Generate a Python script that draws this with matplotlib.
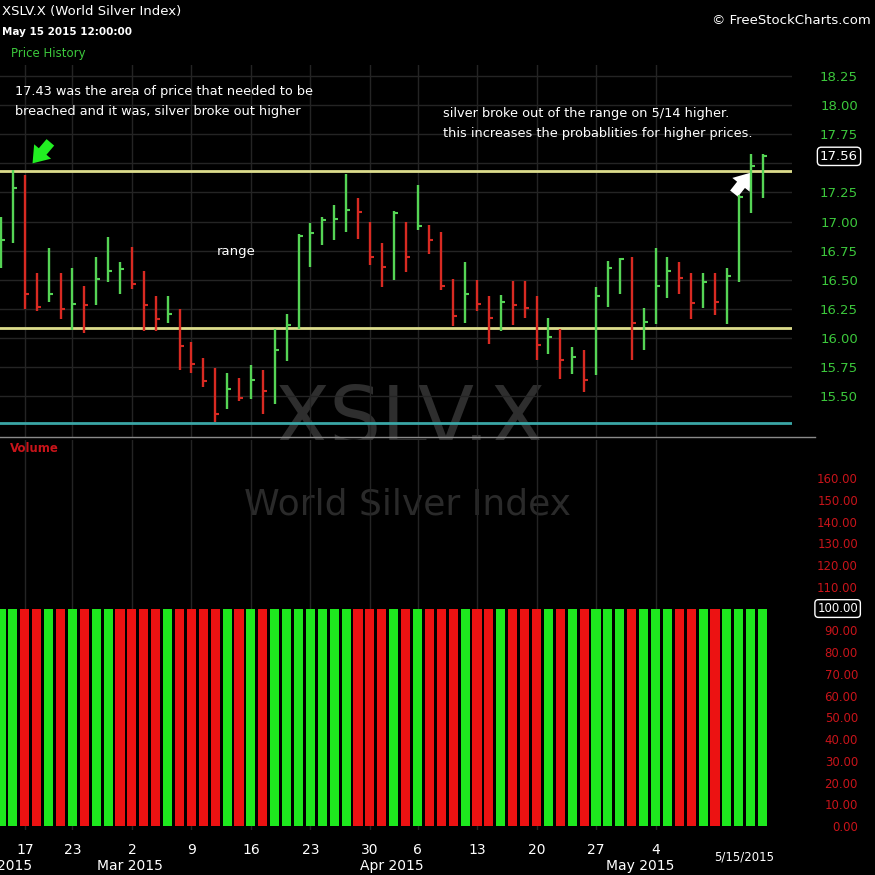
import matplotlib
matplotlib.use('Agg')
import matplotlib.pyplot as plt
import matplotlib.transforms as mtransforms
from matplotlib.lines import Line2D
import numpy as np
import pandas as pd

# ---------------- data ----------------
holidays = ['2015-02-16', '2015-04-03']
dates = [d for d in pd.bdate_range('2015-02-12', '2015-05-15') if d.strftime('%Y-%m-%d') not in holidays]

highs = [17.04, 17.44, 17.40, 16.56, 16.77, 16.56, 16.60, 16.45, 16.70, 16.87,
         16.65, 16.78, 16.58, 16.36, 16.36, 16.25, 15.97, 15.83, 15.74, 15.70,
         15.66, 15.77, 15.73, 16.08, 16.21, 16.89, 16.99, 17.04, 17.14, 17.41,
         17.20, 17.00, 16.82, 17.09, 17.00, 17.31, 16.97, 16.91, 16.51, 16.65,
         16.50, 16.36, 16.37, 16.49, 16.49, 16.36, 16.17, 16.08, 15.92, 15.90,
         16.44, 16.66, 16.69, 16.70, 16.26, 16.77, 16.70, 16.65, 16.56, 16.56,
         16.56, 16.60, 17.23, 17.58, 17.58]
lows = [16.60, 16.82, 16.25, 16.23, 16.31, 16.16, 16.07, 16.04, 16.28, 16.48,
        16.38, 16.42, 16.06, 16.06, 16.13, 15.73, 15.70, 15.58, 15.28, 15.39,
        15.46, 15.48, 15.35, 15.43, 15.80, 16.08, 16.61, 16.80, 16.84, 16.91,
        16.85, 16.63, 16.44, 16.50, 16.57, 16.93, 16.72, 16.41, 16.10, 16.13,
        16.23, 15.95, 16.06, 16.11, 16.17, 15.81, 15.86, 15.65, 15.69, 15.54,
        15.68, 16.27, 16.38, 15.81, 15.90, 16.12, 16.34, 16.38, 16.16, 16.26,
        16.20, 16.12, 16.48, 17.07, 17.20]
closes = [16.84, 17.29, 16.38, 16.27, 16.38, 16.25, 16.29, 16.28, 16.51, 16.58,
          16.59, 16.46, 16.28, 16.16, 16.21, 15.93, 15.78, 15.63, 15.35, 15.56,
          15.49, 15.64, 15.55, 15.90, 16.11, 16.88, 16.90, 17.01, 17.02, 17.10,
          17.08, 16.70, 16.61, 17.07, 16.70, 16.96, 16.84, 16.45, 16.19, 16.38,
          16.29, 16.17, 16.31, 16.28, 16.26, 15.94, 16.01, 15.81, 15.84, 15.64,
          16.36, 16.60, 16.68, 16.13, 16.14, 16.45, 16.58, 16.52, 16.30, 16.48,
          16.31, 16.53, 17.21, 17.48, 17.56]
up = [1, 1, 0, 0, 1, 0, 1, 0, 1, 1,
      1, 0, 0, 0, 1, 0, 0, 0, 0, 1,
      0, 1, 0, 1, 1, 1, 1, 1, 1, 1,
      0, 0, 0, 1, 0, 1, 0, 0, 0, 1,
      0, 0, 1, 0, 0, 0, 1, 0, 1, 0,
      1, 1, 1, 0, 1, 1, 1, 0, 0, 1,
      0, 1, 1, 1, 1]
volumes = [100] * 65
vol_up = [1, 1, 0, 0, 1, 0, 1, 0, 1, 1,
          0, 0, 0, 0, 1, 0, 0, 0, 0, 1,
          0, 1, 0, 1, 1, 1, 1, 1, 1, 1,
          0, 0, 0, 1, 0, 1, 0, 0, 0, 1,
          0, 0, 1, 0, 0, 0, 1, 0, 1, 0,
          1, 1, 1, 0, 1, 1, 1, 0, 0, 1,
          0, 1, 1, 1, 1]

resistance = 17.43
support = 16.09
floor_level = 15.27
last_price = 17.56

tick_dates = ['2015-02-17', '2015-02-23', '2015-03-02', '2015-03-09', '2015-03-16',
              '2015-03-23', '2015-03-30', '2015-04-06', '2015-04-13', '2015-04-20',
              '2015-04-27', '2015-05-04']
month_labels = ['Feb 2015', 'Mar 2015', 'Apr 2015', 'May 2015']
price_levels = [15.50, 15.75, 16.00, 16.25, 16.50, 16.75, 17.00, 17.25, 17.50, 17.75, 18.00, 18.25]
vol_levels = list(range(0, 161, 10))

# ---------------- style ----------------
PGREEN = '#55d455'
PRED = '#d82a22'
VGREEN = '#1ee81e'
VRED = '#ec1212'
GRID = '#242424'
AXGREEN = '#3cc83c'
AXRED = '#c8141a'
plt.rcParams['font.family'] = ['DejaVu Sans']

W = H = 875
def fx(px):
    return px / W
def fy(py):
    return 1 - py / H

fig = plt.figure(figsize=(8.75, 8.75), dpi=100, facecolor='black')
ax = fig.add_axes([0, fy(437), fx(792), fy(65) - fy(437)])
axv = fig.add_axes([0, fy(830), fx(792), fy(440) - fy(830)], sharex=ax)
for a in (ax, axv):
    a.set_facecolor('black')
    for s in a.spines.values():
        s.set_visible(False)

n = len(closes)
x = np.arange(n)
date_index = {d.strftime('%Y-%m-%d'): i for i, d in enumerate(dates)}
tick_idx = [date_index[d] for d in tick_dates]
tick_labels = [str(pd.Timestamp(d).day) for d in tick_dates]

# price bars
pcolors = [PGREEN if u else PRED for u in up]
ax.vlines(x, lows, highs, colors=pcolors, lw=1.7, zorder=4)
ax.hlines(closes, x, x + 0.34, colors=pcolors, lw=1.5, zorder=4)

ax.axhline(resistance, color='#dcdc8c', lw=2.0, zorder=3)
ax.axhline(support, color='#dcdc8c', lw=2.0, zorder=3)
ax.axhline(floor_level, color='#3aa6a6', lw=2.0, zorder=3)

ax.set_xlim(-0.084, 66.47)
ax.set_ylim(15.151, 18.344)
ax.set_xticks(tick_idx)
ax.set_yticks(price_levels)
ax.set_yticklabels(['' if abs(v - last_price) < 0.1 else f'{v:.2f}' for v in price_levels])
ax.grid(True, color=GRID, lw=1.0, zorder=0)
ax.yaxis.tick_right()
ax.tick_params(axis='x', length=0, labelbottom=False)
ax.tick_params(axis='y', length=0, pad=47.5, labelcolor=AXGREEN, labelsize=9.5)
for t in ax.yaxis.get_major_ticks():
    t.label2.set_horizontalalignment('right')

bt = mtransforms.blended_transform_factory(ax.transAxes, ax.transData)
ax.text(858 / 792, last_price, f'{last_price:.2f}', transform=bt, ha='right', va='center',
        color='white', fontsize=9.5,
        bbox=dict(boxstyle='round,pad=0.2,rounding_size=0.3', fc='black', ec='white', lw=1.0))

# watermark
ax.text(0.518, 0.04, 'XSLV.X', transform=ax.transAxes, ha='center', va='center',
        color='#2e2e2e', fontsize=59, zorder=1)

# annotations
ax.text(18.1, 16.74, 'range', color='white', fontsize=9.5, va='center', ha='left')
ax.annotate('', xy=(2.65, 17.50), xytext=(4.15, 17.68),
            arrowprops=dict(arrowstyle='simple,head_length=0.7,head_width=1.0,tail_width=0.45',
                            fc='#22ee22', ec='none', mutation_scale=16, shrinkA=0, shrinkB=0))
ax.annotate('', xy=(63.0, 17.42), xytext=(61.6, 17.24),
            arrowprops=dict(arrowstyle='simple,head_length=0.7,head_width=1.0,tail_width=0.45',
                            fc='white', ec='none', mutation_scale=16, shrinkA=0, shrinkB=0))

# volume bars
vcolors = [VGREEN if u else VRED for u in vol_up]
axv.bar(x, volumes, width=0.76, color=vcolors, zorder=3)
axv.set_ylim(-1.84, 177.5)
axv.set_yticks(vol_levels)
axv.set_yticklabels(['' if v == 100 else f'{v:.2f}' for v in vol_levels])
axv.yaxis.tick_right()
axv.grid(True, axis='x', color=GRID, lw=1.0, zorder=0)
axv.tick_params(axis='y', length=0, pad=47.5, labelcolor=AXRED, labelsize=8.5)
for t in axv.yaxis.get_major_ticks():
    t.label2.set_horizontalalignment('right')
bv = mtransforms.blended_transform_factory(axv.transAxes, axv.transData)
axv.text(858 / 792, 100, '100.00', transform=bv, ha='right', va='center', color='white',
         fontsize=8.5, bbox=dict(boxstyle='round,pad=0.2,rounding_size=0.3', fc='black', ec='white', lw=1.0))
axv.set_xticks(tick_idx)
axv.set_xticklabels(tick_labels)
axv.tick_params(axis='x', length=0, pad=9, labelcolor='white', labelsize=10)
for lab in axv.get_xticklabels():
    lab.set_family(['Liberation Sans Narrow', 'DejaVu Sans'])

bx = mtransforms.blended_transform_factory(axv.transData, axv.transAxes)
for lbl, pos in zip(month_labels, [-0.1, 10.8, 32.8, 53.7]):
    axv.text(pos, -0.093, lbl, transform=bx, ha='center', va='center', color='white',
             fontsize=10, family=['Liberation Sans Narrow', 'DejaVu Sans'])
axv.text(62.45, -0.069, '5/15/2015', transform=bx, ha='center', va='center', color='white',
         fontsize=8.5, family=['Liberation Sans Narrow', 'DejaVu Sans'])

axv.text(0.515, 0.835, 'World Silver Index', transform=axv.transAxes, ha='center', va='center',
         color='#2a2a2a', fontsize=26, zorder=1)

# header texts
fig.text(fx(2), fy(12), 'XSLV.X (World Silver Index)', color='white', fontsize=9.5, va='center')
fig.text(fx(2), fy(32), 'May 15 2015 12:00:00', color='white', fontsize=7.5, va='center', weight='bold')
fig.text(fx(11), fy(53), 'Price History', color=AXGREEN, fontsize=8.5, va='center')
fig.text(fx(871), fy(21), '\u00a9 FreeStockCharts.com', color='white', fontsize=9.5, va='center', ha='right')
fig.text(fx(10), fy(448), 'Volume', color=AXRED, fontsize=8.5, va='center', weight='bold')

fig.text(fx(15), fy(92), '17.43 was the area of price that needed to be', color='white', fontsize=9.3, va='center')
fig.text(fx(15), fy(112), 'breached and it was, silver broke out higher', color='white', fontsize=9.3, va='center')
fig.text(fx(443), fy(113), 'silver broke out of the range on 5/14 higher.', color='white', fontsize=9.3, va='center')
fig.text(fx(443), fy(133), 'this increases the probablities for higher prices.', color='white', fontsize=9.3, va='center')

fig.add_artist(Line2D([0, fx(815)], [fy(437), fy(437)], color='#8a8a8a', lw=1.0))

fig.savefig('out.png', dpi=100, facecolor='black')
